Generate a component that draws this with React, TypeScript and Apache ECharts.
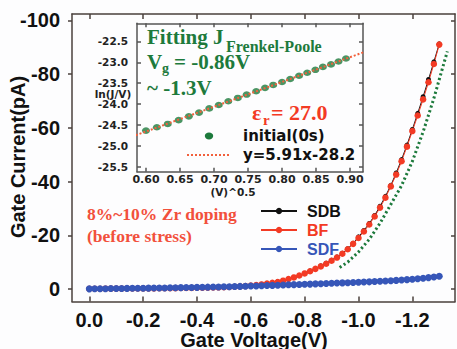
import React, { useEffect, useRef } from 'react';
import * as echarts from 'echarts';

// Main plot data (Gate Voltage in V, Gate Current in pA)
const voltage = [
  0, -0.02, -0.04, -0.06, -0.08, -0.1, -0.12, -0.14, -0.16, -0.18,
  -0.2, -0.22, -0.24, -0.26, -0.28, -0.3, -0.32, -0.34, -0.36, -0.38,
  -0.4, -0.42, -0.44, -0.46, -0.48, -0.5, -0.52, -0.54, -0.56, -0.58,
  -0.6, -0.62, -0.64, -0.66, -0.68, -0.7, -0.72, -0.74, -0.76, -0.78,
  -0.8, -0.82, -0.84, -0.86, -0.88, -0.9, -0.92, -0.94, -0.96, -0.98,
  -1.0, -1.02, -1.04, -1.06, -1.08, -1.1, -1.12, -1.14, -1.16, -1.18,
  -1.2, -1.22, -1.24, -1.26, -1.28, -1.3,
];
const sdbCurrent = [
  -0.1, -0.1, -0.11, -0.12, -0.13, -0.14, -0.16, -0.17, -0.19, -0.2,
  -0.22, -0.23, -0.25, -0.27, -0.29, -0.31, -0.33, -0.36, -0.39, -0.42,
  -0.45, -0.49, -0.53, -0.58, -0.63, -0.7, -0.78, -0.87, -0.98, -1.1,
  -1.27, -1.48, -1.72, -2.0, -2.3, -2.7, -3.15, -3.7, -4.3, -5.0,
  -5.8, -6.7, -7.6, -8.6, -9.6, -10.7, -11.9, -13.3, -15.0, -17.0,
  -19.4, -21.8, -24.4, -27.4, -30.8, -34.5, -38.6, -43.2, -48.2, -53.6,
  -59.4, -65.4, -71.6, -78.0, -84.6, -91.3,
];
const bfCurrent = [
  -0.1, -0.1, -0.1, -0.12, -0.13, -0.14, -0.15, -0.17, -0.18, -0.2,
  -0.21, -0.23, -0.24, -0.26, -0.28, -0.3, -0.32, -0.35, -0.38, -0.41,
  -0.44, -0.48, -0.52, -0.57, -0.62, -0.68, -0.76, -0.85, -0.95, -1.08,
  -1.25, -1.45, -1.7, -2.0, -2.3, -2.6, -3.1, -3.7, -4.3, -5.0,
  -5.8, -6.6, -7.5, -8.4, -9.4, -10.5, -11.7, -13.1, -14.8, -16.8,
  -19.0, -21.4, -24.0, -27.0, -30.3, -34.0, -38.2, -42.6, -47.6, -53.0,
  -58.8, -64.6, -70.6, -77.0, -83.8, -91.0,
];
const sdfCurrent = [
  -0.05, -0.08, -0.1, -0.12, -0.15, -0.18, -0.2, -0.22, -0.25, -0.28,
  -0.3, -0.32, -0.35, -0.38, -0.4, -0.43, -0.46, -0.5, -0.53, -0.56,
  -0.6, -0.64, -0.68, -0.72, -0.76, -0.8, -0.85, -0.9, -0.96, -1.02,
  -1.08, -1.14, -1.2, -1.27, -1.34, -1.41, -1.48, -1.55, -1.62, -1.68,
  -1.75, -1.82, -1.9, -1.97, -2.05, -2.12, -2.2, -2.27, -2.35, -2.43,
  -2.5, -2.58, -2.66, -2.76, -2.86, -2.96, -3.08, -3.2, -3.34, -3.48,
  -3.64, -3.82, -4.02, -4.24, -4.48, -4.75,
];
// Frenkel-Poole fit drawn on the main plot
const fpVoltage = [-0.93, -0.96, -1.0, -1.04, -1.08, -1.12, -1.16, -1.2, -1.24, -1.28, -1.3, -1.33];
const fpCurrent = [-8.0, -10.0, -13.8, -18.5, -24.5, -31.5, -38.5, -47.5, -58.5, -71.0, -78.0, -88.5];

// Inset data
const sqrtV = [
  0.6, 0.616, 0.632, 0.648, 0.663, 0.678, 0.693, 0.707, 0.721, 0.735, 0.748, 0.762,
  0.775, 0.787, 0.8, 0.812, 0.825, 0.837, 0.849, 0.86, 0.872, 0.883, 0.894,
];
const lnJV = [
  -24.63, -24.55, -24.47, -24.38, -24.29, -24.2, -24.1, -24.02, -23.93, -23.85, -23.77, -23.69,
  -23.61, -23.54, -23.47, -23.4, -23.32, -23.25, -23.18, -23.11, -23.05, -22.98, -22.91,
];
const fitX = [0.585, 0.925];
const fitY = [-24.74, -22.73];

// Tick values
const xTicks = [0, -0.2, -0.4, -0.6, -0.8, -1.0, -1.2];
const yTicks = [-100, -80, -60, -40, -20, 0];
const insetXTicks = [0.6, 0.65, 0.7, 0.75, 0.8, 0.85, 0.9];
const insetYTicks = [-25.5, -25.0, -24.5, -24.0, -23.5, -23.0, -22.5];

const FRAME = '#4a403c';
const RED = '#f33a24';
const BLUE = '#3656b8';
const BLACK = '#111111';
const GREEN = '#1d7a3c';
const SANS = 'Liberation Sans';
const DEJAVU = 'DejaVu Sans';
const SERIF = 'Liberation Serif';

function mainX(position: 'top' | 'bottom', showLabel: boolean) {
  return {
    type: 'value', gridIndex: 0, min: -1.3585, max: 0.0643, inverse: true, position,
    axisLine: { show: true, onZero: false, lineStyle: { color: FRAME, width: 1.5 } },
    axisTick: { show: true, inside: true, length: 5, customValues: xTicks, lineStyle: { color: FRAME, width: 1.5 } },
    axisLabel: {
      show: showLabel, customValues: xTicks, margin: 8,
      formatter: (v: number) => v.toFixed(1),
      fontSize: 20, fontWeight: 'bold', fontFamily: SANS, color: BLACK,
    },
    splitLine: { show: false },
  };
}
function mainY(position: 'left' | 'right', showLabel: boolean) {
  return {
    type: 'value', gridIndex: 0, min: -102.4, max: 4.66, inverse: true, position,
    axisLine: { show: true, onZero: false, lineStyle: { color: FRAME, width: 1.5 } },
    axisTick: { show: true, inside: position === 'right', length: 4, customValues: yTicks, lineStyle: { color: FRAME, width: 1.5 } },
    axisLabel: {
      show: showLabel, customValues: yTicks, margin: 12,
      formatter: (v: number) => String(Math.round(v)),
      fontSize: 20, fontWeight: 'bold', fontFamily: SANS, color: BLACK,
    },
    splitLine: { show: false },
  };
}
function insetX(position: 'top' | 'bottom', showLabel: boolean) {
  return {
    type: 'value', gridIndex: 1, min: 0.5868, max: 0.919, position,
    axisLine: { show: true, onZero: false, lineStyle: { color: '#555', width: 1.5 } },
    axisTick: { show: true, inside: true, length: 4, customValues: insetXTicks, lineStyle: { color: '#555', width: 1.5 } },
    axisLabel: {
      show: showLabel, customValues: insetXTicks, margin: 2,
      formatter: (v: number) => v.toFixed(2),
      fontSize: 11, fontWeight: 'bold', fontFamily: DEJAVU, color: '#222',
    },
    splitLine: { show: false },
  };
}
function insetY(position: 'left' | 'right', showLabel: boolean) {
  return {
    type: 'value', gridIndex: 1, min: -25.61, max: -22.07, position,
    axisLine: { show: true, onZero: false, lineStyle: { color: '#555', width: 1.5 } },
    axisTick: { show: true, inside: true, length: 4, customValues: insetYTicks, lineStyle: { color: '#555', width: 1.5 } },
    axisLabel: {
      show: showLabel, customValues: insetYTicks, margin: 9,
      formatter: (v: number) => v.toFixed(1),
      fontSize: 10.5, fontWeight: 'bold', fontFamily: DEJAVU, color: '#222',
    },
    splitLine: { show: false },
  };
}

function txt(text: string, x: number, y: number, font: string, fill: string, extra: any = {}) {
  return {
    type: 'text', x, y, z: 100, ...extra,
    style: { text, font, fill, textAlign: 'left', textVerticalAlign: 'middle', ...(extra.style || {}) },
  };
}

export default function App() {
  const ref = useRef<HTMLDivElement>(null);
  useEffect(() => {
    const chart = echarts.init(ref.current!, null, { renderer: 'svg' });
    const serifG = `bold 21px "${SERIF}"`;
    const option: any = {
      animation: false,
      backgroundColor: '#fdfdfe',
      grid: [
        { left: 72, top: 14, width: 383, height: 287.5 },
        { left: 137, top: 23.3, width: 226, height: 148.4 },
      ],
      xAxis: [mainX('bottom', true), mainX('top', false), insetX('bottom', true), insetX('top', false)],
      yAxis: [mainY('left', true), mainY('right', false), insetY('left', true), insetY('right', false)],
      legend: {
        orient: 'vertical', left: 255, top: 198, itemWidth: 36, itemHeight: 8, itemGap: 3,
        textStyle: { fontSize: 16, fontWeight: 'bold', fontFamily: SANS, lineHeight: 16, padding: [0, 0, 0, 5] },
        data: [
          { name: 'SDB', textStyle: { color: BLACK } },
          { name: 'BF', textStyle: { color: RED } },
          { name: 'SDF', textStyle: { color: BLUE } },
        ],
      },
      series: [
        {
          name: 'SDB', type: 'line', xAxisIndex: 0, yAxisIndex: 0,
          data: voltage.map((v, i) => [v, sdbCurrent[i]]),
          symbol: 'circle', symbolSize: 5, itemStyle: { color: BLACK },
          lineStyle: { color: BLACK, width: 1 },
        },
        {
          name: 'BF', type: 'line', xAxisIndex: 0, yAxisIndex: 0,
          data: voltage.map((v, i) => [v, bfCurrent[i]]),
          symbol: 'circle', symbolSize: 6.5, itemStyle: { color: RED },
          lineStyle: { color: RED, width: 1 },
        },
        {
          name: 'SDF', type: 'line', xAxisIndex: 0, yAxisIndex: 0,
          data: voltage.map((v, i) => [v, sdfCurrent[i]]),
          symbol: 'circle', symbolSize: 7, itemStyle: { color: BLUE },
          lineStyle: { color: BLUE, width: 1 },
        },
        {
          name: 'FP fit', type: 'line', xAxisIndex: 0, yAxisIndex: 0,
          data: fpVoltage.map((v, i) => [v, fpCurrent[i]]),
          showSymbol: false, symbol: 'none',
          lineStyle: { color: GREEN, width: 3, type: [2.2, 2.6], cap: 'butt' },
        },
        {
          name: 'initial(0s)', type: 'scatter', xAxisIndex: 2, yAxisIndex: 2,
          data: sqrtV.map((v, i) => [v, lnJV[i]]),
          symbol: 'circle', symbolSize: [8, 6.5], itemStyle: { color: GREEN },
        },
        {
          name: 'y=5.91x-28.2', type: 'line', xAxisIndex: 2, yAxisIndex: 2, clip: false,
          data: fitX.map((v, i) => [v, fitY[i]]),
          showSymbol: false, symbol: 'none',
          lineStyle: { color: '#f2603c', width: 2, type: [2, 2], cap: 'butt' },
        },
      ],
      graphic: [
        txt('Gate Voltage(V)', 254, 339.5, `bold 20px "${SANS}"`, BLACK, { style: { textAlign: 'center' } }),
        txt('Gate Current(pA)', 18, 157, `bold 20px "${SANS}"`, BLACK, { rotation: Math.PI / 2, style: { textAlign: 'center' } }),
        txt('ln(J/V)', 113, 94, `bold 10.5px "${DEJAVU}"`, '#222', { style: { textAlign: 'center' } }),
        txt('(V)^0.5', 233, 192, `bold 10.5px "${DEJAVU}"`, '#222', { style: { textAlign: 'center' } }),
        txt('Fitting J', 147, 37, serifG, GREEN),
        txt('Frenkel-Poole', 226, 46, `bold 16px "${SERIF}"`, GREEN),
        txt('V', 147, 62, serifG, GREEN),
        txt('g', 162, 68.5, `bold 14px "${SERIF}"`, GREEN),
        txt('= -0.86V', 174, 62, serifG, GREEN),
        txt('~ -1.3V', 147, 88, serifG, GREEN),
        txt('\u03b5', 252, 112, `bold 22px "${SERIF}"`, RED),
        txt('r', 263, 120, `bold 15px "${SERIF}"`, RED),
        txt('= 27.0', 271, 112, `bold 22px "${SERIF}"`, RED),
        {
          type: 'ellipse', z: 100, shape: { cx: 209, cy: 136, rx: 4.2, ry: 3.4 }, style: { fill: GREEN },
        },
        txt('initial(0s)', 243, 136, `bold 15px "${DEJAVU}"`, '#111'),
        {
          type: 'line', z: 100, shape: { x1: 187, y1: 155, x2: 231, y2: 155 },
          style: { stroke: '#f2603c', lineWidth: 2, lineDash: [2, 2] },
        },
        txt('y=5.91x-28.2', 243, 155, `bold 15px "${DEJAVU}"`, '#111'),
        txt('8%~10% Zr doping', 87, 214, `bold 17.5px "${SERIF}"`, '#f2503c'),
        txt('(before stress)', 87, 236, `bold 17.5px "${SERIF}"`, '#f2503c'),
      ],
    };
    chart.setOption(option);
    return () => chart.dispose();
  }, []);
  return <div ref={ref} style={{ position: 'fixed', left: 0, top: 0, width: 457, height: 349 }} />;
}
